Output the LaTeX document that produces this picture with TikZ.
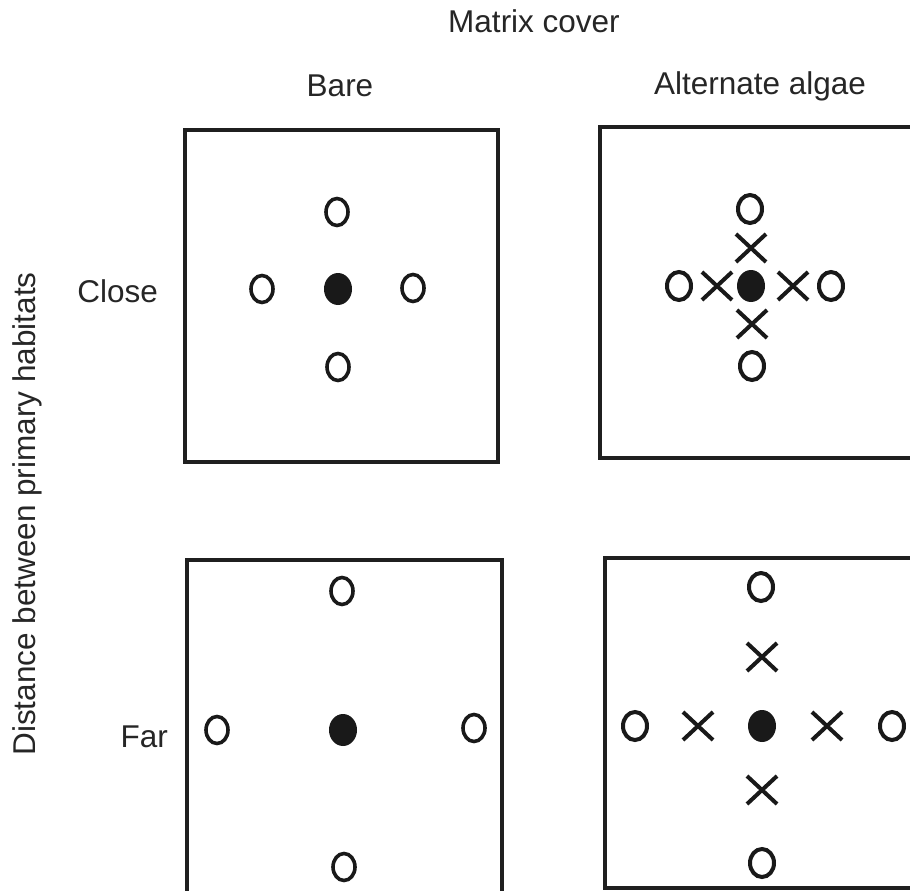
\documentclass[tikz,border=0pt]{standalone}
\usepackage{fontspec}
\setmainfont{Liberation Sans}
\usetikzlibrary{shapes.geometric,shapes.misc}
\tikzset{
  lbl/.style={font=\fontsize{31.5}{38}\selectfont, text=black!85, inner sep=0pt, anchor=base},
  panel/.style={draw=black!88, line width=3.6pt},
  ring/.style={ellipse, draw=black!90, line width=3.6pt, minimum width=22pt, minimum height=27pt, inner sep=0pt},
  ringO/.style={ellipse, draw=black!90, line width=4pt, minimum width=24pt, minimum height=28pt, inner sep=0pt},
  dot/.style={ellipse, fill=black!90, minimum width=28pt, minimum height=32pt, inner sep=0pt},
  cross/.style={cross out, draw=black!90, line width=4pt, minimum width=26pt, minimum height=24pt, inner sep=0pt}
}
\begin{document}
\begin{tikzpicture}[x=1pt,y=-1pt]
\useasboundingbox (0,0) rectangle (910,891);
\clip (0,0) rectangle (910,891);
\fill[white] (0,0) rectangle (910,891);
% labels
\node[lbl] (mc) at (534,33) {Matrix cover};
\node[lbl] (bare) at (340,96) {Bare};
\node[lbl] (alt) at (760,95) {Alternate algae};
\node[lbl, anchor=base east] (close) at (158,302) {Close};
\node[lbl, anchor=base east] (far) at (168,747) {Far};
\node[lbl, rotate=90] (dist) at (35,514) {Distance between primary habitats};
% panels
\draw[panel] (185,130) rectangle (498,462);
\draw[panel] (600,127) rectangle (950,458);
\draw[panel] (187,560) rectangle (502,900);
\draw[panel] (605,558) rectangle (950,888);
% close / bare
\node[dot] (a0) at (338,289) {};
\node[ring] (a1) at (337,212) {};
\node[ring] (a2) at (262,289) {};
\node[ring] (a3) at (413,288) {};
\node[ring] (a4) at (338,367) {};
% close / algae
\node[dot] (b0) at (751,286) {};
\node[ringO] (b1) at (750,209) {};
\node[cross] (b2) at (751,248) {};
\node[ringO] (b3) at (679,286) {};
\node[cross] (b4) at (717,286) {};
\node[cross] (b5) at (793,286) {};
\node[ringO] (b6) at (831,286) {};
\node[cross] (b7) at (752,324) {};
\node[ringO] (b8) at (752,366) {};
% far / bare
\node[dot] (c0) at (343,730) {};
\node[ring] (c1) at (342,591) {};
\node[ring] (c2) at (217,730) {};
\node[ring] (c3) at (474,728) {};
\node[ring] (c4) at (344,867) {};
% far / algae
\node[dot] (d0) at (762,726) {};
\node[ringO] (d1) at (761,587) {};
\node[cross] (d2) at (762,657) {};
\node[ringO] (d3) at (635,726) {};
\node[cross] (d4) at (698,726) {};
\node[cross] (d5) at (827,726) {};
\node[ringO] (d6) at (892,726) {};
\node[cross] (d7) at (762,790) {};
\node[ringO] (d8) at (762,863) {};
\end{tikzpicture}
\end{document}
